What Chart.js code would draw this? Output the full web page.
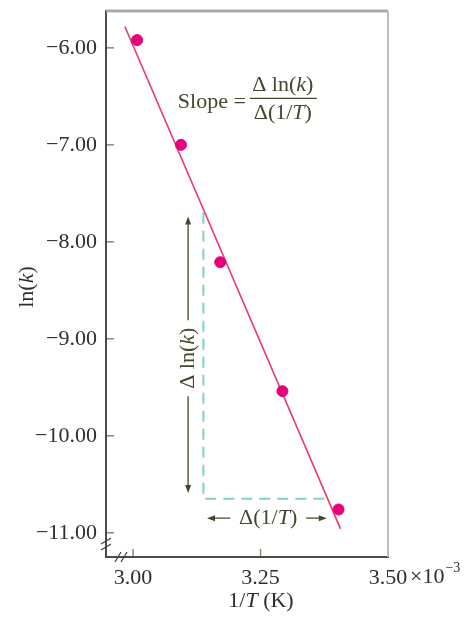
<!DOCTYPE html>
<html>
<head>
<meta charset="utf-8">
<script src="https://cdn.jsdelivr.net/npm/chart.js@4.4.1/dist/chart.umd.min.js"></script>
<style>
  html, body { margin: 0; padding: 0; background: #fff; }
  #wrap { width: 470px; height: 620px; }
</style>
</head>
<body>
<div id="wrap"><canvas id="arrhenius"></canvas></div>
<script>
// measured points (1/T in units of 1e-3 K^-1)
const invT = [3.008, 3.094, 3.171, 3.293, 3.403];
const lnK = [-5.92, -7.00, -8.21, -9.54, -10.76];

// best fit line ends
const fitX = [2.984, 3.407];
const fitY = [-5.78, -10.96];

// dashed triangle under the line
const triX = [3.138, 3.138, 3.388];
const triY = [-7.70, -10.65, -10.65];

const xTicks = [3.00, 3.25, 3.50];
const yTicks = [-6, -7, -8, -9, -10, -11];

const serif = '"Liberation Serif", "DejaVu Serif", serif';
const ink = '#2e2e2b';
const olive = '#46462c';

function pts(xs, ys) {
  return xs.map((x, i) => ({ x: x, y: ys[i] }));
}

// draw text made of normal / italic runs
function runs(ctx, parts, x, y, size, align) {
  let w = 0;
  parts.forEach(p => {
    ctx.font = (p[1] ? 'italic ' : '') + size + 'px ' + serif;
    w += ctx.measureText(p[0]).width;
  });
  let cx = align === 'center' ? x - w / 2 : align === 'right' ? x - w : x;
  ctx.textAlign = 'left';
  ctx.textBaseline = 'middle';
  parts.forEach(p => {
    ctx.font = (p[1] ? 'italic ' : '') + size + 'px ' + serif;
    ctx.fillText(p[0], cx, y);
    cx += ctx.measureText(p[0]).width;
  });
  return w;
}

function head(ctx, x, y, dx, dy) {
  ctx.beginPath();
  ctx.moveTo(x, y);
  ctx.lineTo(x - dx * 8 - dy * 3, y - dy * 8 - dx * 3);
  ctx.lineTo(x - dx * 8 + dy * 3, y - dy * 8 + dx * 3);
  ctx.closePath();
  ctx.fill();
}

const extras = {
  id: 'extras',
  afterDraw(chart) {
    const ctx = chart.ctx;
    const a = chart.chartArea;
    const xs = chart.scales.x, ys = chart.scales.y;
    ctx.save();

    // frame top and right
    ctx.strokeStyle = '#a9a9a9';
    ctx.lineWidth = 3;
    ctx.beginPath();
    ctx.moveTo(a.left, a.top);
    ctx.lineTo(a.right, a.top);
    ctx.stroke();
    ctx.strokeStyle = '#bdbdbd';
    ctx.lineWidth = 2;
    ctx.beginPath();
    ctx.moveTo(a.right, a.top);
    ctx.lineTo(a.right, a.bottom);
    ctx.stroke();

    // inner tick marks
    ctx.strokeStyle = '#8e8e60';
    ctx.lineWidth = 1.5;
    yTicks.forEach(v => {
      const py = ys.getPixelForValue(v);
      ctx.beginPath();
      ctx.moveTo(a.left + 1, py);
      ctx.lineTo(a.left + 8, py);
      ctx.stroke();
    });
    xTicks.slice(0, 2).forEach(v => {
      const px = xs.getPixelForValue(v);
      ctx.beginPath();
      ctx.moveTo(px, a.bottom - 1);
      ctx.lineTo(px, a.bottom - 8);
      ctx.stroke();
    });

    // axis break marks
    ctx.strokeStyle = '#444';
    ctx.lineWidth = 1.3;
    [-4, 2].forEach(o => {
      ctx.beginPath();
      ctx.moveTo(a.left - 5, a.bottom - 12 + o + 3);
      ctx.lineTo(a.left + 5, a.bottom - 12 + o - 3);
      ctx.stroke();
      ctx.beginPath();
      ctx.moveTo(a.left + 16 + o - 3, a.bottom + 5);
      ctx.lineTo(a.left + 16 + o + 3, a.bottom - 5);
      ctx.stroke();
    });

    ctx.fillStyle = olive;
    ctx.strokeStyle = olive;
    ctx.lineWidth = 1.3;

    // vertical arrow with label
    const vx = xs.getPixelForValue(3.108);
    const vt = ys.getPixelForValue(-7.74);
    const vb = ys.getPixelForValue(-10.59);
    const vm = ys.getPixelForValue(-9.20);
    ctx.beginPath();
    ctx.moveTo(vx, vt + 6);
    ctx.lineTo(vx, vm - 38);
    ctx.moveTo(vx, vm + 38);
    ctx.lineTo(vx, vb - 6);
    ctx.stroke();
    head(ctx, vx, vt, 0, -1);
    head(ctx, vx, vb, 0, 1);
    ctx.save();
    ctx.translate(vx, vm);
    ctx.rotate(-Math.PI / 2);
    runs(ctx, [['\u0394 ln(', false], ['k', true], [')', false]], 0, 0, 22, 'center');
    ctx.restore();

    // horizontal arrow with label
    const hy = ys.getPixelForValue(-10.85);
    const hl = xs.getPixelForValue(3.145);
    const hr = xs.getPixelForValue(3.380);
    const hm = xs.getPixelForValue(3.265);
    ctx.beginPath();
    ctx.moveTo(hl + 6, hy);
    ctx.lineTo(hm - 38, hy);
    ctx.moveTo(hm + 38, hy);
    ctx.lineTo(hr - 6, hy);
    ctx.stroke();
    head(ctx, hl, hy, -1, 0);
    head(ctx, hr, hy, 1, 0);
    runs(ctx, [['\u0394(1/', false], ['T', true], [')', false]], hm, hy, 22, 'center');

    // slope formula
    const sx = xs.getPixelForValue(3.229);
    const sy = ys.getPixelForValue(-6.52);
    runs(ctx, [['Slope =', false]], sx - 4, sy + 4, 22, 'right');
    ctx.beginPath();
    ctx.moveTo(sx, sy);
    ctx.lineTo(sx + 67, sy);
    ctx.stroke();
    runs(ctx, [['\u0394 ln(', false], ['k', true], [')', false]], sx + 33, sy - 13, 22, 'center');
    runs(ctx, [['\u0394(1/', false], ['T', true], [')', false]], sx + 33, sy + 15, 22, 'center');

    // axis titles
    ctx.fillStyle = ink;
    ctx.save();
    ctx.translate(27, (a.top + a.bottom) / 2 + 3);
    ctx.rotate(-Math.PI / 2);
    runs(ctx, [['ln(', false], ['k', true], [')', false]], 0, 0, 22, 'center');
    ctx.restore();
    runs(ctx, [['1/', false], ['T', true], [' (K)', false]], 261, 601, 22, 'center');

    // exponent after the last tick
    const ex = xs.getPixelForValue(3.50) + 22;
    const w = runs(ctx, [['\u00d710', false]], ex, 577, 22, 'left');
    runs(ctx, [['\u22123', false]], ex + w + 1, 568, 14, 'left');

    ctx.restore();
  }
};

new Chart(document.getElementById('arrhenius'), {
  type: 'scatter',
  data: {
    datasets: [
      {
        label: 'ln(k)',
        data: pts(invT, lnK),
        backgroundColor: '#e6007a',
        borderColor: '#e6007a',
        pointRadius: 5.5
      },
      {
        label: 'fit',
        data: pts(fitX, fitY),
        showLine: true,
        borderColor: '#ea3a6c',
        borderWidth: 1.6,
        pointRadius: 0
      },
      {
        label: 'triangle',
        data: pts(triX, triY),
        showLine: true,
        borderColor: '#7fd3bf',
        borderWidth: 2,
        borderDash: [11, 7],
        pointRadius: 0
      }
    ]
  },
  options: {
    responsive: true,
    maintainAspectRatio: false,
    animation: false,
    layout: { padding: { top: 11, right: 82, left: 0, bottom: 0 } },
    plugins: { legend: { display: false }, tooltip: { enabled: false } },
    scales: {
      x: {
        type: 'linear',
        min: 2.947,
        max: 3.50,
        afterBuildTicks: s => { s.ticks = xTicks.map(v => ({ value: v })); },
        afterFit: s => { s.height = 63; s.paddingLeft = 0; s.paddingRight = 0; },
        grid: { drawOnChartArea: false, drawTicks: false },
        border: { display: true, color: '#4a4a4a', width: 2 },
        ticks: {
          padding: 8,
          color: ink,
          font: { family: serif, size: 22 },
          maxRotation: 0,
          autoSkip: false,
          callback: v => v.toFixed(2)
        }
      },
      y: {
        min: -11.25,
        max: -5.62,
        afterBuildTicks: s => { s.ticks = yTicks.map(v => ({ value: v })); },
        afterFit: s => { s.width = 106; s.paddingTop = 0; s.paddingBottom = 0; },
        grid: { drawOnChartArea: false, drawTicks: false },
        border: { display: true, color: '#4a4a4a', width: 2 },
        ticks: {
          padding: 9,
          color: ink,
          font: { family: serif, size: 22 },
          autoSkip: false,
          callback: v => (v < 0 ? '\u2212' : '') + Math.abs(v).toFixed(2)
        }
      }
    }
  },
  plugins: [extras]
});
</script>
</body>
</html>
